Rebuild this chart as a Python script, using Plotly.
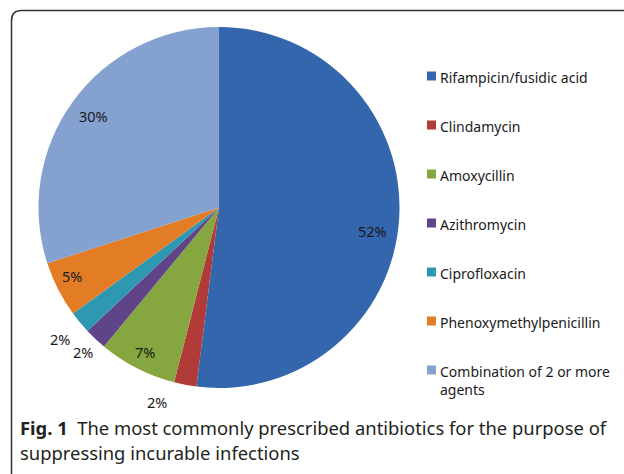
import math
import plotly.graph_objects as go

# ---- data ----
labels = ["Rifampicin/fusidic acid", "Clindamycin", "Amoxycillin", "Azithromycin",
          "Ciprofloxacin", "Phenoxymethylpenicillin", "Combination of 2 or more agents"]
legend_text = ["Rifampicin/fusidic acid", "Clindamycin", "Amoxycillin", "Azithromycin",
               "Ciprofloxacin", "Phenoxymethylpenicillin", "Combination of 2 or more<br>agents"]
values = [52, 2, 7, 2, 2, 5, 30]
colors = ["#3366AC", "#B13B38", "#86A63F", "#5F4488", "#2E98B3", "#E27D26", "#85A1D0"]

# ---- style / layout ----
W, H = 624, 474
cx, cy, R = 219, 207.5, 180.5          # pie geometry in px
lab_r = [0.86, 1.13, 0.90, 1.10, 1.14, 0.90, 0.86]   # label radius factors
lab_da = [5, 7, 0, 0, 0, 2, 0]                          # label angle nudges (deg)
FONT = "Noto Sans"

def px(x):
    return x / W

def py(y):
    return 1 - y / H

fig = go.Figure()
fig.add_trace(go.Pie(
    labels=labels, values=values, sort=False, direction="clockwise", rotation=0,
    marker=dict(colors=colors, line=dict(width=0)),
    textinfo="none", hoverinfo="label+percent", showlegend=False,
    domain=dict(x=[px(cx - R), px(cx + R)], y=[py(cy + R), py(cy - R)]),
))

total = sum(values)
annotations = []
cum = 0
for i, v in enumerate(values):
    mid = (cum + v / 2) / total * 360 + lab_da[i]
    cum += v
    r = R * lab_r[i]
    x = cx + r * math.sin(math.radians(mid))
    y = cy - r * math.cos(math.radians(mid))
    annotations.append(dict(x=px(x), y=py(y), xref="paper", yref="paper",
                            text=f"{round(v / total * 100)}%", showarrow=False,
                            font=dict(family=FONT, size=14.5, color="#1a1a1a"),
                            xanchor="center", yanchor="middle"))

# manual legend
shapes = []
leg_y0, leg_dy = 76, 49
for i, (t, c) in enumerate(zip(legend_text, colors)):
    yy = leg_y0 + i * leg_dy
    shapes.append(dict(type="rect", xref="paper", yref="paper",
                       x0=px(427), x1=px(436), y0=py(yy + 4.5), y1=py(yy - 4.5),
                       fillcolor=c, line=dict(width=0)))
    annotations.append(dict(x=px(438), y=py(yy - 10), xref="paper", yref="paper",
                            text=t, showarrow=False, align="left",
                            font=dict(family=FONT, size=14, color="#1a1a1a"),
                            xanchor="left", yanchor="top"))

# frame
r0 = 10
path = (f"M {px(11.5)},{py(476)} L {px(11.5)},{py(10.5 + r0)} "
        f"Q {px(11.5)},{py(10.5)} {px(11.5 + r0)},{py(10.5)} L {px(626)},{py(10.5)}")
shapes.append(dict(type="path", xref="paper", yref="paper", path=path,
                   line=dict(color="#333333", width=1.5)))

# caption
annotations.append(dict(x=px(18), y=py(427), xref="paper", yref="paper",
                        text="<b>Fig. 1</b>  The most commonly prescribed antibiotics for the purpose of",
                        showarrow=False, xanchor="left", yanchor="middle",
                        font=dict(family=FONT, size=18.4, color="#231f20")))
annotations.append(dict(x=px(18), y=py(452), xref="paper", yref="paper",
                        text="suppressing incurable infections",
                        showarrow=False, xanchor="left", yanchor="middle",
                        font=dict(family=FONT, size=18.4, color="#231f20")))

fig.update_layout(width=W, height=H, margin=dict(l=0, r=0, t=0, b=0),
                  paper_bgcolor="white", plot_bgcolor="white",
                  shapes=shapes, annotations=annotations, showlegend=False)
fig.write_html("out.html", config={"displayModeBar": False},
               post_script="document.body.style.margin='0';")
